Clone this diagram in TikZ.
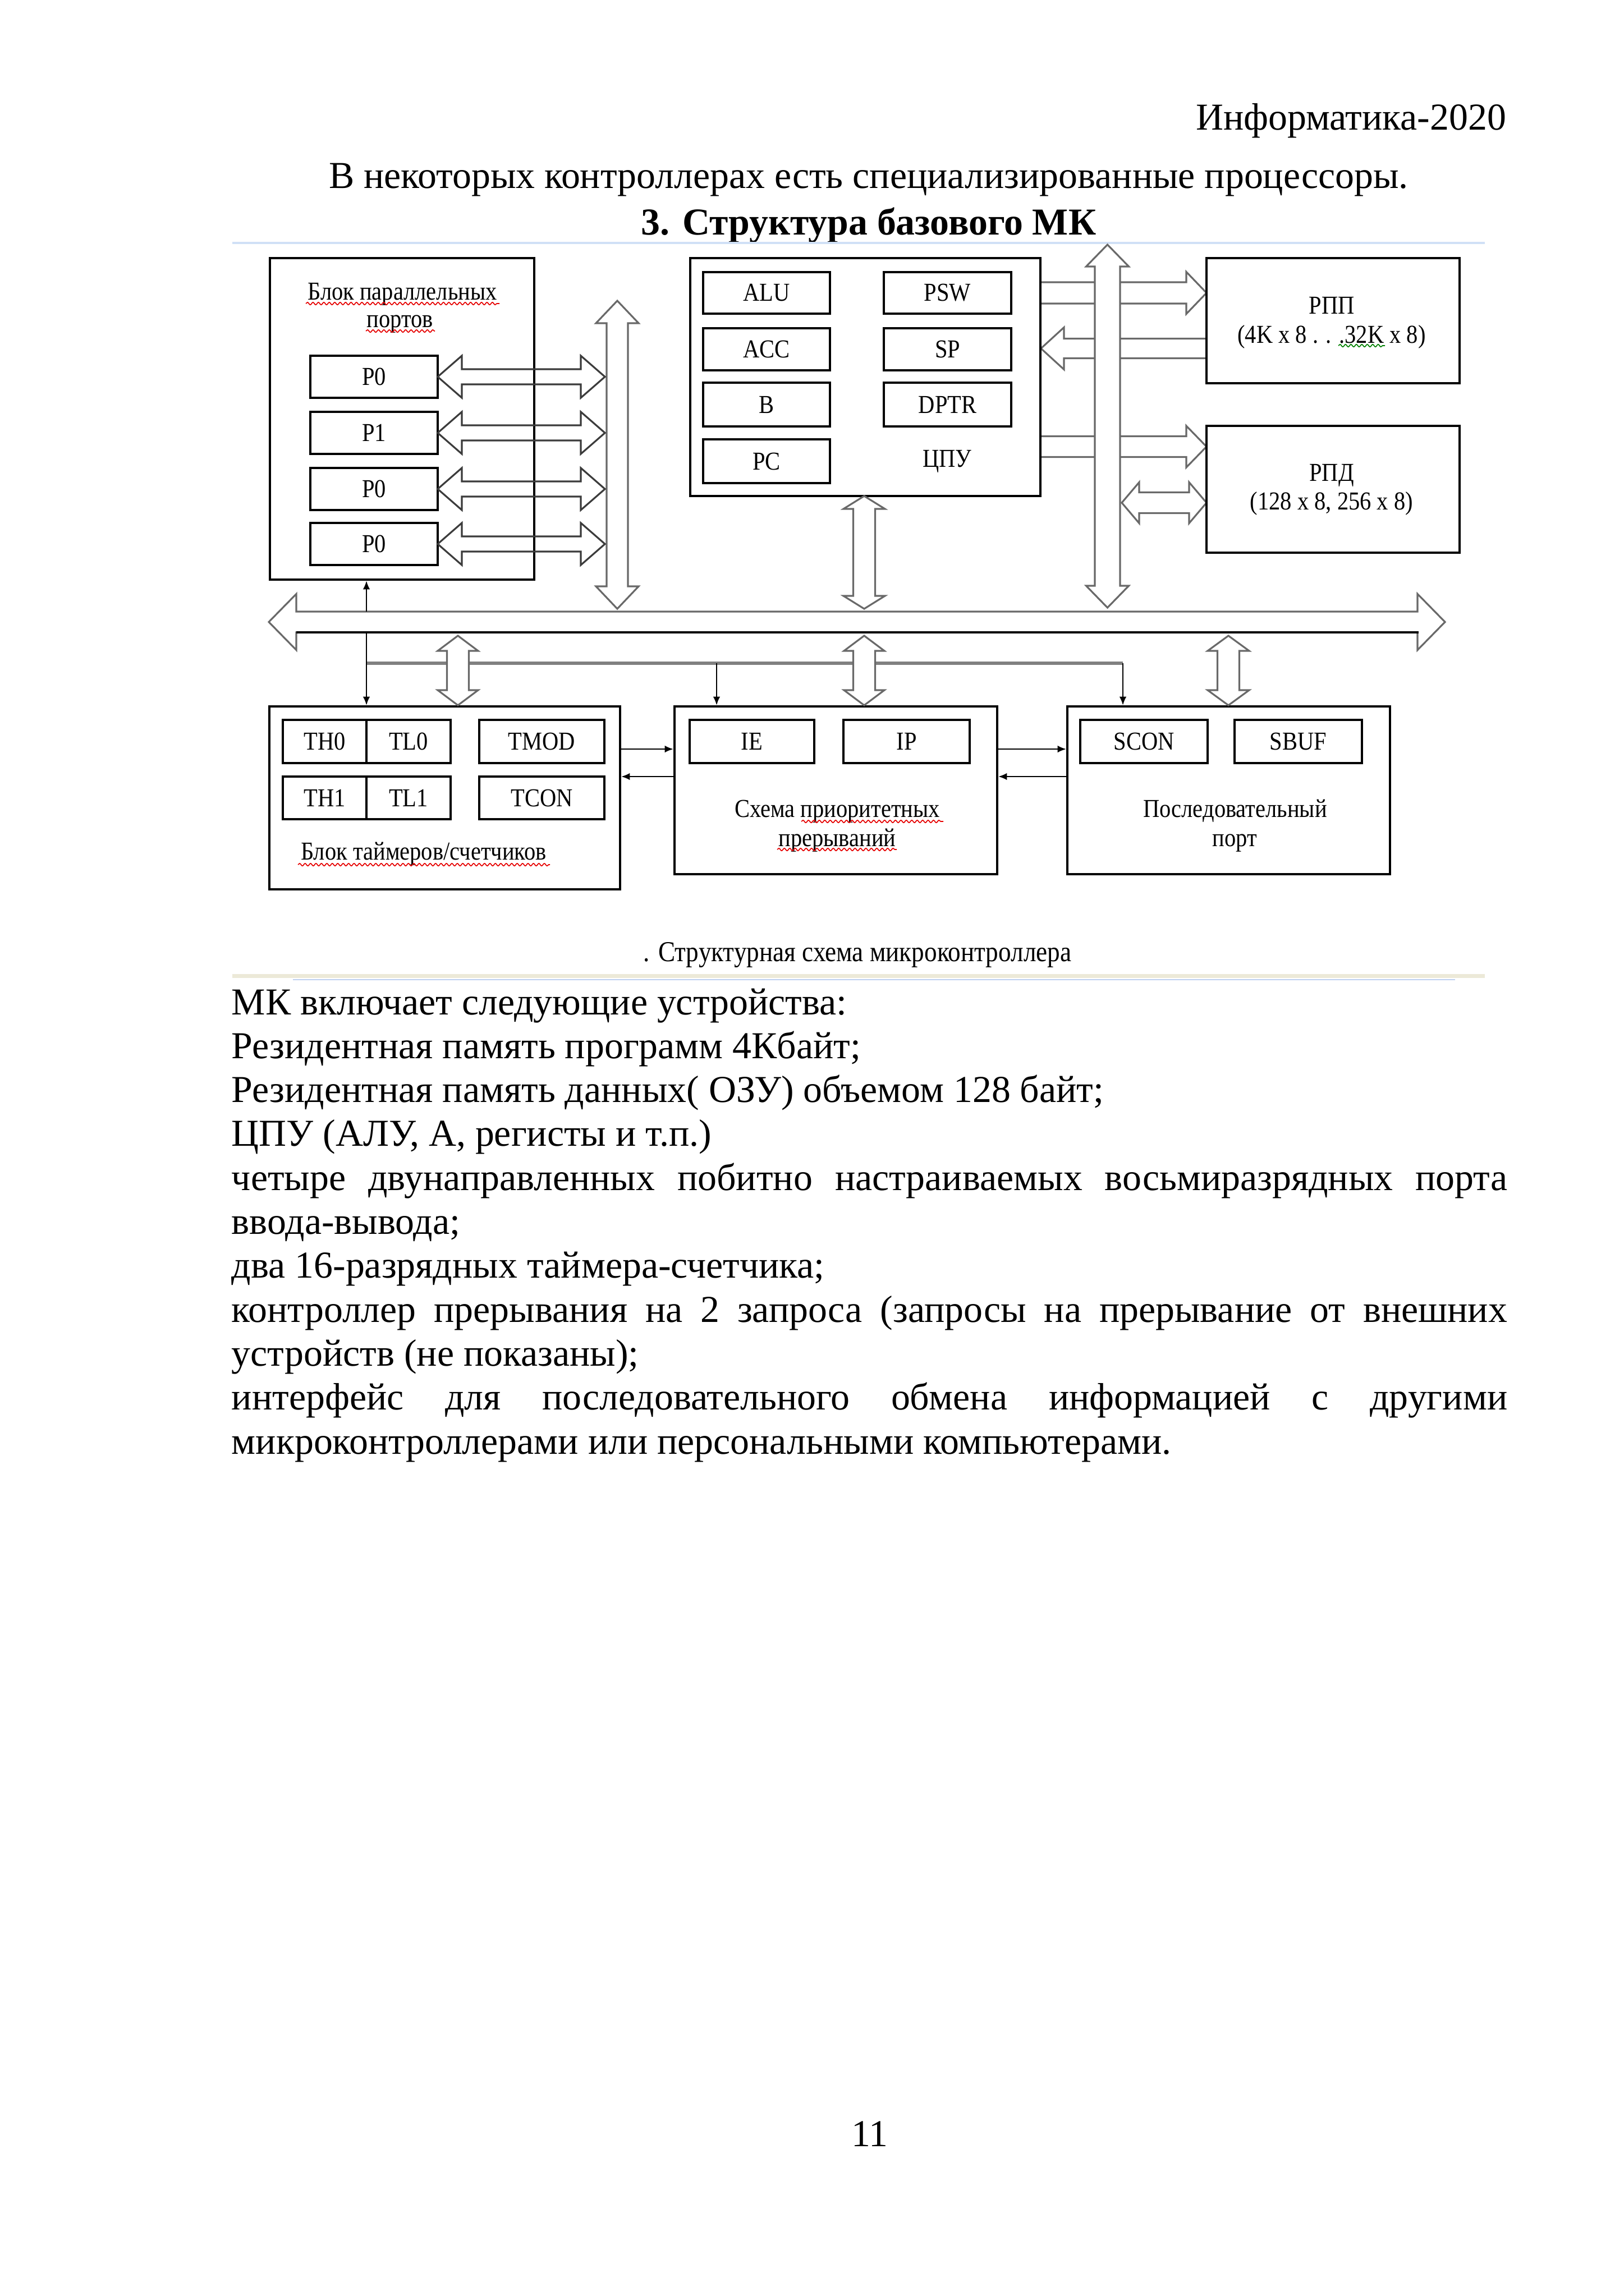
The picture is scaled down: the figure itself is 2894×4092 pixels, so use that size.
\documentclass[tikz,border=0pt]{standalone}
\usepackage{fontspec}
\setmainfont{Liberation Serif}
\newfontfamily\dfont[FakeStretch=0.88]{Liberation Serif}
\usetikzlibrary{arrows.meta,fit,decorations.pathmorphing}

\definecolor{arrgray}{RGB}{105,105,105}
\definecolor{portgray}{RGB}{60,60,60}
\definecolor{linegray}{RGB}{128,128,128}
\definecolor{rulebl}{RGB}{208,224,246}
\definecolor{rulebeige}{RGB}{236,233,216}
\definecolor{rulebltwo}{RGB}{190,208,240}
\definecolor{wavred}{RGB}{230,0,0}
\definecolor{wavgreen}{RGB}{0,128,0}

\tikzset{
 box/.style={draw=black, line width=0.75pt, fill=white, inner sep=0pt},
 reg/.style={draw=black, line width=0.85pt, fill=white, inner sep=0pt},
 lbl/.style={inner sep=0pt, font=\dfont\fontsize{9.5}{11}\selectfont},
 bigarrow/.style={draw=arrgray, line width=0.65pt, line join=miter},
 ctl/.style={draw=black, line width=0.6pt, -{Latex[length=3.2pt,width=2.6pt]}},
 pagetxt/.style={inner sep=0pt, font=\fontsize{14}{16.1}\selectfont},
 wave/.style={decorate, decoration={snake, amplitude=0.45pt, segment length=2pt}, line width=0.35pt},
}

% horizontal double arrow: [style]{x1}{x2}{y}{shaft half}{head half}{head length}
\newcommand\HDArr[7][]{\draw[bigarrow,#1] (#2,#4) -- ({#2+#7},{#4-#6}) -- ({#2+#7},{#4-#5}) -- ({#3-#7},{#4-#5}) -- ({#3-#7},{#4-#6}) -- (#3,#4) -- ({#3-#7},{#4+#6}) -- ({#3-#7},{#4+#5}) -- ({#2+#7},{#4+#5}) -- ({#2+#7},{#4+#6}) -- cycle;}
% vertical double arrow: [style]{ytop}{ybottom}{x}{shaft half}{head half}{head length}
\newcommand\VDArr[7][]{\draw[bigarrow,#1] (#4,#2) -- ({#4-#6},{#2+#7}) -- ({#4-#5},{#2+#7}) -- ({#4-#5},{#3-#7}) -- ({#4-#6},{#3-#7}) -- (#4,#3) -- ({#4+#6},{#3-#7}) -- ({#4+#5},{#3-#7}) -- ({#4+#5},{#2+#7}) -- ({#4+#6},{#2+#7}) -- cycle;}
% single horizontal arrow with open tail: [style]{xtail}{xtip}{y}{shaft half}{head half}{signed head length}
\newcommand\HRArr[7][]{\draw[bigarrow,#1] (#2,{#4-#5}) -- ({#3-(#7)},{#4-#5}) -- ({#3-(#7)},{#4-#6}) -- (#3,#4) -- ({#3-(#7)},{#4+#6}) -- ({#3-(#7)},{#4+#5}) -- (#2,{#4+#5});}
% register box with centred label: {name}{x1,y1}{x2,y2}{text}
\newcommand\RegBox[4]{\node[reg, fit={(#2) (#3)}] (#1) {}; \node[lbl] (#1-t) at (#1.center) {#4};}

\begin{document}
\begin{tikzpicture}[x=0.07256mm, y=-0.07256mm]
\path[fill=white, use as bounding box] (0,0) rectangle (2894,4092);

% ---------- page header ----------
\node[pagetxt, anchor=base east] (hdr) at (2685,232) {Информатика-2020};
\node[pagetxt, anchor=base] (intro) at (1548,335) {В некоторых контроллерах есть специализированные процессоры.};
\node[pagetxt, anchor=base, font=\fontsize{14}{16.1}\selectfont\bfseries] (ttl) at (1548,418) {3. Структура базового МК};
\draw[rulebl, line width=0.8pt] (414,433) -- (2646,433);

% ---------- CPU -> memory arrows (under the vertical bus) ----------
\HRArr{1854}{2150}{522}{19}{37.5}{36}
\HRArr{2150}{1855}{621}{17.5}{37.5}{-41}
\HRArr{1854}{2150}{796}{18.5}{37}{36}
\HDArr{1999}{2150}{896}{18.5}{36.5}{31}

% ---------- vertical buses ----------
\VDArr[fill=white]{536}{1085}{1100}{19}{38}{40}
\VDArr[fill=white]{436}{1083}{1973.5}{22.5}{38}{39}

% ---------- parallel ports block ----------
\node[box, fit={(481,460) (952,1033)}] (ports) {};
\node[lbl, anchor=base] (portsA) at (717,534) {Блок параллельных};
\node[lbl, anchor=base] (portsB) at (713,583) {портов};
\RegBox{pa}{553,634}{780,709}{P0}
\RegBox{pb}{553,734}{780,809}{P1}
\RegBox{pc}{553,834}{780,909}{P0}
\RegBox{pd}{553,932}{780,1007}{P0}
\HDArr[draw=portgray]{780}{1078}{671.5}{13.5}{37.5}{43}
\HDArr[draw=portgray]{780}{1078}{771.5}{13.5}{37.5}{43}
\HDArr[draw=portgray]{780}{1078}{871.5}{13.5}{37.5}{43}
\HDArr[draw=portgray]{780}{1078}{969.5}{13.5}{37.5}{43}

% ---------- CPU ----------
\node[box, fit={(1230,460) (1854,884)}] (cpu) {};
\RegBox{alu}{1253,485}{1479,559}{ALU}
\RegBox{psw}{1575,485}{1802,559}{PSW}
\RegBox{acc}{1253,585}{1479,660}{ACC}
\RegBox{sp}{1575,585}{1802,660}{SP}
\RegBox{breg}{1253,682}{1479,760}{B}
\RegBox{dptr}{1575,682}{1802,760}{DPTR}
\RegBox{pcreg}{1253,783}{1479,861}{PC}
\node[lbl] (cpulbl) at (1688,822) {ЦПУ};
\VDArr[fill=white]{884}{1085}{1540}{19.5}{37}{23}

% ---------- memories ----------
\node[box, fit={(2150,460) (2601,683)}] (rpp) {};
\node[lbl, anchor=base] (rppA) at (2373,559) {РПП};
\node[lbl, anchor=base] (rppB) at (2373,611) {(4K x 8 . . .32K x 8)};
\node[box, fit={(2150,759) (2601,985)}] (rpd) {};
\node[lbl, anchor=base] (rpdA) at (2373,857) {РПД};
\node[lbl, anchor=base] (rpdB) at (2373,908) {(128 x 8, 256 x 8)};

% ---------- main bus ----------
\HDArr[fill=white]{479}{2575}{1108.5}{18.5}{50}{49}
\draw[black, line width=0.7pt] (528,1127) -- (2528,1127);

% ---------- lower blocks ----------
\node[box, fit={(480,1259) (1105,1585)}] (timers) {};
\RegBox{th0}{504,1283}{653,1360}{TH0}
\RegBox{tl0}{653,1283}{803,1360}{TL0}
\RegBox{th1}{504,1384}{653,1460}{TH1}
\RegBox{tl1}{653,1384}{803,1460}{TL1}
\RegBox{tmod}{854,1283}{1077,1360}{TMOD}
\RegBox{tcon}{854,1384}{1077,1460}{TCON}
\node[lbl, anchor=base] (timlbl) at (755,1532) {Блок таймеров/счетчиков};

\node[box, fit={(1202,1259) (1777,1558)}] (intr) {};
\RegBox{ie}{1229,1283}{1451,1360}{IE}
\RegBox{ip}{1503,1283}{1728,1360}{IP}
\node[lbl, anchor=base] (intA) at (1492,1456) {Схема приоритетных};
\node[lbl, anchor=base] (intB) at (1492,1508) {прерываний};

\node[box, fit={(1902,1259) (2477,1558)}] (serial) {};
\RegBox{scon}{1925,1283}{2152,1360}{SCON}
\RegBox{sbuf}{2200,1283}{2427,1360}{SBUF}
\node[lbl, anchor=base] (serA) at (2201,1456) {Последовательный};
\node[lbl, anchor=base] (serB) at (2200,1508) {порт};

% ---------- control lines ----------
\coordinate (busT) at (653,1090);
\coordinate (busB) at (653,1127);
\coordinate (jA) at (653,1182);
\coordinate (jB) at (1277,1182);
\coordinate (jC) at (2001,1182);
\coordinate (rowA) at (0,1335);
\coordinate (rowB) at (0,1384);
\draw[linegray, line width=1.2pt] (jA) -- (jC);
\draw[ctl] (busT) -- (busT |- ports.south);
\draw[ctl] (busB) -- (busB |- timers.north);
\draw[ctl] (jB) -- (jB |- intr.north);
\draw[ctl] (jC) -- (jC |- serial.north);
\draw[ctl] (timers.east |- rowA) -- (intr.west |- rowA);
\draw[ctl] (intr.west |- rowB) -- (timers.east |- rowB);
\draw[ctl] (intr.east |- rowA) -- (serial.west |- rowA);
\draw[ctl] (serial.west |- rowB) -- (intr.east |- rowB);

% bus <-> block double arrows
\VDArr[fill=white]{1133}{1257}{816}{19.5}{36}{27}
\VDArr[fill=white]{1133}{1257}{1540}{19.5}{36}{27}
\VDArr[fill=white]{1133}{1257}{2189}{19.5}{37}{27}

% spell-check underlines
\draw[wave, wavred] (545,541) -- (890,541);
\draw[wave, wavred] (652,590) -- (775,590);
\draw[wave, wavred] (531,1541) -- (980,1541);
\draw[wave, wavred] (1428,1464) -- (1681,1464);
\draw[wave, wavred] (1385,1514) -- (1598,1514);
\draw[wave, wavgreen] (2385,616) -- (2468,616);

% ---------- caption ----------
\node[lbl, anchor=base, font=\dfont\fontsize{10.6}{12}\selectfont] (cap) at (1528,1713) {. Структурная схема микроконтроллера};
\fill[rulebeige] (414,1736) rectangle (2646,1743);
\draw[rulebltwo, line width=0.6pt] (522,1746) -- (2593,1746);

% ---------- body text ----------
\node[pagetxt, anchor=base west] (t0) at (412,1808) {МК включает следующие устройства:};
\node[pagetxt, anchor=base west] (t1) at (412,1886.3) {Резидентная память программ 4Кбайт;};
\node[pagetxt, anchor=base west] (t2) at (412,1964.6) {Резидентная память данных( ОЗУ) объемом 128 байт;};
\node[pagetxt, anchor=base west] (t3) at (412,2042.9) {ЦПУ (АЛУ, А, регисты и т.п.)};
\node[pagetxt, anchor=base west] (t4) at (412,2121.2) {\makebox[164.93mm][s]{четыре двунаправленных побитно настраиваемых восьмиразрядных порта}};
\node[pagetxt, anchor=base west] (t5) at (412,2199.5) {ввода-вывода;};
\node[pagetxt, anchor=base west] (t6) at (412,2277.8) {два 16-разрядных таймера-счетчика;};
\node[pagetxt, anchor=base west] (t7) at (412,2356.1) {\makebox[164.93mm][s]{контроллер прерывания на 2 запроса (запросы на прерывание от внешних}};
\node[pagetxt, anchor=base west] (t8) at (412,2434.4) {устройств (не показаны);};
\node[pagetxt, anchor=base west] (t9) at (412,2512.7) {\makebox[164.93mm][s]{интерфейс для последовательного обмена информацией с другими}};
\node[pagetxt, anchor=base west] (t10) at (412,2591) {микроконтроллерами или персональными компьютерами.};

\node[pagetxt, anchor=base] (pnum) at (1550,3825) {11};
\end{tikzpicture}
\end{document}
